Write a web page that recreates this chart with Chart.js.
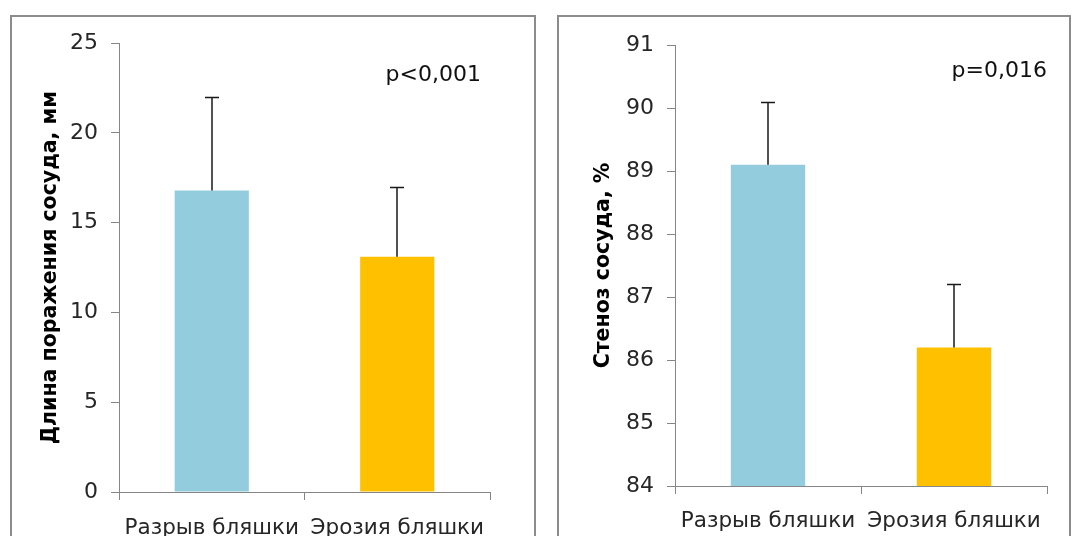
<!DOCTYPE html>
<html>
<head>
<meta charset="utf-8">
<script src="https://cdn.jsdelivr.net/npm/chart.js@4.4.1/dist/chart.umd.min.js"></script>
<style>
  body { margin: 0; background: #fff; width: 1073px; height: 536px; overflow: hidden; position: relative; }
  .panel { position: absolute; top: 15px; height: 560px; border: 2px solid #8c8c8c; box-sizing: border-box; }
  #panelLeft { left: 10px; width: 526px; }
  #panelRight { left: 557px; width: 514px; }
  .box { position: absolute; top: 17px; height: 519px; }
  #boxLeft { left: 12px; width: 522px; }
  #boxRight { left: 559px; width: 510px; }
</style>
</head>
<body>
<div class="panel" id="panelLeft"></div>
<div class="panel" id="panelRight"></div>
<div class="box" id="boxLeft"><canvas id="chartLeft"></canvas></div>
<div class="box" id="boxRight"><canvas id="chartRight"></canvas></div>

<script>
// --- DATA ---
const categories = ['Разрыв бляшки', 'Эрозия бляшки'];
const barColors = ['#93CDDD', '#FFC000'];

// Длина поражения сосуда, мм
const lengthMeans = [16.8, 13.1];
const lengthErrors = [5.2, 3.9];
const lengthTicks = { min: 0, max: 25, step: 5 };

// Стеноз сосуда, %
const stenosisMeans = [89.1, 86.2];
const stenosisErrors = [1.0, 1.0];
const stenosisTicks = { min: 84, max: 91, step: 1 };

const axisGray = '#868686';
const textColor = '#262626';
const FONT = '"DejaVu Sans", sans-serif';

// --- PLUGINS ---
// upper error bar with a cap, drawn from the bar top
const errorBars = {
  id: 'errorBars',
  afterDatasetsDraw(chart, args, opts) {
    const meta = chart.getDatasetMeta(0);
    const y = chart.scales.y;
    const ctx = chart.ctx;
    const vals = chart.data.datasets[0].data;
    ctx.save();
    ctx.strokeStyle = '#1a1a1a';
    ctx.lineWidth = 1.5;
    meta.data.forEach((bar, i) => {
      const x = Math.round(bar.x);
      const top = Math.round(y.getPixelForValue(vals[i] + opts.errors[i])) + 0.5;
      ctx.beginPath();
      ctx.moveTo(x, bar.y);
      ctx.lineTo(x, top);
      ctx.moveTo(x - 7, top);
      ctx.lineTo(x + 7, top);
      ctx.stroke();
    });
    ctx.restore();
  }
};

// p-value note in the upper right corner
const pNote = {
  id: 'pNote',
  afterDraw(chart, args, opts) {
    const ctx = chart.ctx;
    const a = chart.chartArea;
    ctx.save();
    ctx.font = '22px ' + FONT;
    ctx.fillStyle = '#111';
    ctx.textAlign = 'right';
    ctx.textBaseline = 'alphabetic';
    ctx.fillText(opts.text, a.right - opts.dx, a.top + opts.dy);
    ctx.restore();
  }
};

function makeChart(id, means, errors, ticks, title, cfg) {
  return new Chart(document.getElementById(id), {
    type: 'bar',
    data: {
      labels: categories,
      datasets: [{
        data: means,
        backgroundColor: barColors,
        borderWidth: 0,
        categoryPercentage: 1,
        barPercentage: 0.4
      }]
    },
    plugins: [errorBars, pNote],
    options: {
      responsive: true,
      maintainAspectRatio: false,
      animation: false,
      layout: { padding: { top: cfg.padTop, right: cfg.padRight, left: 0, bottom: 0 } },
      scales: {
        x: {
          afterFit: s => { s.height = cfg.xHeight; },
          grid: { offset: true, drawOnChartArea: false, color: axisGray, tickLength: 8 },
          border: { color: axisGray, width: 1 },
          ticks: { color: textColor, font: { family: FONT, size: 21.5 }, padding: cfg.xPad, maxRotation: 0 }
        },
        y: {
          min: ticks.min,
          max: ticks.max,
          afterFit: s => { s.width = cfg.yWidth; },
          grid: { drawOnChartArea: false, color: axisGray, tickLength: 8 },
          border: { color: axisGray, width: 1 },
          ticks: { stepSize: ticks.step, color: textColor, font: { family: FONT, size: 22 }, padding: 13 },
          title: {
            display: true,
            text: title,
            color: '#000',
            font: { family: FONT, size: 20.5, weight: 'bold' },
            padding: { top: cfg.titlePad, bottom: 0 }
          }
        }
      },
      plugins: {
        legend: { display: false },
        tooltip: { enabled: false },
        errorBars: { errors: errors },
        pNote: cfg.note
      }
    }
  });
}

makeChart('chartLeft', lengthMeans, lengthErrors, lengthTicks, 'Длина поражения сосуда, мм', {
  padTop: 26, padRight: 44, xHeight: 44, yWidth: 107, titlePad: 26, xPad: 16,
  note: { text: 'p<0,001', dx: 9, dy: 38 }
});

makeChart('chartRight', stenosisMeans, stenosisErrors, stenosisTicks, 'Стеноз сосуда, %', {
  padTop: 28, padRight: 22, xHeight: 50, yWidth: 116, titlePad: 32, xPad: 15,
  note: { text: 'p=0,016', dx: 0, dy: 32 }
});
</script>
</body>
</html>
